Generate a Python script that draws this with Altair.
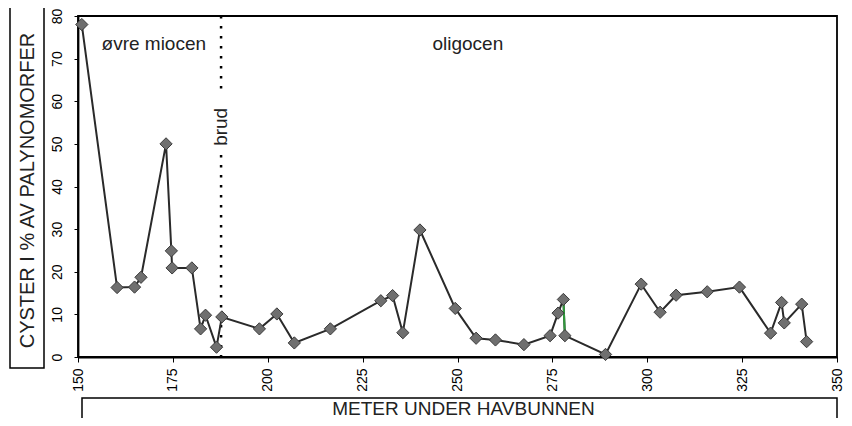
import altair as alt
import pandas as pd

depth = [151.0, 160.3, 164.9, 166.6, 173.2, 174.6, 174.8, 180.0, 182.3, 183.6,
         186.5, 187.9, 197.8, 202.4, 207.0, 216.5, 229.8, 232.9, 235.6, 240.1,
         249.4, 254.9, 260.0, 267.5, 274.4, 276.5, 277.9, 278.3, 289.0, 298.4,
         303.4, 307.6, 315.8, 324.3, 332.5, 335.4, 336.1, 340.7, 342.0]
pct = [78.0, 16.3, 16.4, 18.7, 50.0, 24.9, 20.9, 20.9, 6.6, 9.8,
       2.3, 9.4, 6.6, 10.1, 3.3, 6.6, 13.2, 14.4, 5.7, 29.8,
       11.4, 4.4, 4.0, 2.9, 5.0, 10.3, 13.5, 5.0, 0.6, 17.1,
       10.5, 14.5, 15.3, 16.4, 5.6, 12.8, 8.0, 12.4, 3.6]
green_idx = [26, 27]

labels = ["øvre miocen", "oligocen"]
label_x = [156.2, 243.4]
label_y = [73.5, 73.5]

brud_x = 187.7
brud_segments_top = [80, 47.4]
brud_segments_bottom = [61.3, 0]

df = pd.DataFrame({"depth": depth, "pct": pct, "order": list(range(len(depth)))})
dfg = df.iloc[green_idx]
dfl = pd.DataFrame({"label": labels, "x": label_x, "y": label_y})
dfb = pd.DataFrame({"x": [brud_x, brud_x], "y": brud_segments_top, "y2": brud_segments_bottom})
dfbt = pd.DataFrame({"x": [brud_x], "y": [54.0], "t": ["brud"]})
one = pd.DataFrame({"a": [0]})

FONT = "Liberation Sans"

xs = alt.Scale(domain=[150, 350], nice=False)
ys = alt.Scale(domain=[0, 80], nice=False)

xax = alt.Axis(values=[150, 175, 200, 225, 250, 275, 300, 325, 350], labelAngle=-90,
               labelFontSize=14, labelFont=FONT, labelColor="black", tickSize=5,
               labelPadding=6, domainColor="black", domainWidth=1.8, tickColor="black",
               grid=False, title="METER UNDER HAVBUNNEN", titleFont=FONT,
               titleFontSize=19, titleFontWeight="normal", titleColor="#222222",
               titleX=385, titleY=51, titleBaseline="middle", titleAlign="center")
yax = alt.Axis(values=[0, 10, 20, 30, 40, 50, 60, 70, 80], labelAngle=-90,
               labelAlign="center", labelBaseline="bottom",
               labelFontSize=14, labelFont=FONT, labelColor="black", tickSize=4,
               labelPadding=10, domainColor="black", domainWidth=1.8, tickColor="black",
               grid=False, title="CYSTER I % AV PALYNOMORFER", titleFont=FONT,
               titleFontSize=20, titleFontWeight="normal", titleColor="#222222",
               titleX=-51, titleY=174, titleAngle=270, titleBaseline="middle",
               titleAlign="center")

line = alt.Chart(df).mark_line(color="#2a2a2a", strokeWidth=2).encode(
    x=alt.X("depth:Q", scale=xs, axis=xax),
    y=alt.Y("pct:Q", scale=ys, axis=yax),
    order="order:Q",
)
gline = alt.Chart(dfg).mark_line(color="#2e9a3a", strokeWidth=2).encode(
    x=alt.X("depth:Q", scale=xs), y=alt.Y("pct:Q", scale=ys)
)
pts = alt.Chart(df).mark_point(shape="diamond", filled=True, size=150, fill="#6f6f6f",
                               stroke="#3a3a3a", strokeWidth=1, opacity=1).encode(
    x=alt.X("depth:Q", scale=xs), y=alt.Y("pct:Q", scale=ys)
)
brud = alt.Chart(dfb).mark_rule(color="black", strokeWidth=2.5, strokeDash=[2.5, 7.5]).encode(
    x=alt.X("x:Q", scale=xs), y=alt.Y("y:Q", scale=ys), y2="y2:Q"
)
brudt = alt.Chart(dfbt).mark_text(font=FONT, fontSize=19, angle=270, align="center",
                                  baseline="middle", dx=0, color="#222222").encode(
    x=alt.X("x:Q", scale=xs), y=alt.Y("y:Q", scale=ys), text="t:N"
)
ann = alt.Chart(dfl).mark_text(font=FONT, fontSize=19, align="left", baseline="middle",
                               color="#222222").encode(
    x=alt.X("x:Q", scale=xs), y=alt.Y("y:Q", scale=ys), text="label:N"
)
ybox = alt.Chart(one).mark_rect(fill=None, stroke="black", strokeWidth=1.5).encode(
    x=alt.value(-68), x2=alt.value(-34), y=alt.value(-10), y2=alt.value(352)
)
xbox = alt.Chart(one).mark_rect(fill=None, stroke="black", strokeWidth=1.5).encode(
    x=alt.value(4), x2=alt.value(759), y=alt.value(382), y2=alt.value(440)
)

chart = alt.layer(brud, brudt, ann, line, gline, pts, ybox, xbox).properties(
    width=759, height=341,
    autosize=alt.AutoSizeParams(type="none"),
    padding={"left": 70, "top": 8, "right": 7, "bottom": 61},
    background="white",
).configure_view(stroke="black", strokeWidth=1.8)

chart.save("out.html", embed_options={"renderer": "svg", "actions": False})
